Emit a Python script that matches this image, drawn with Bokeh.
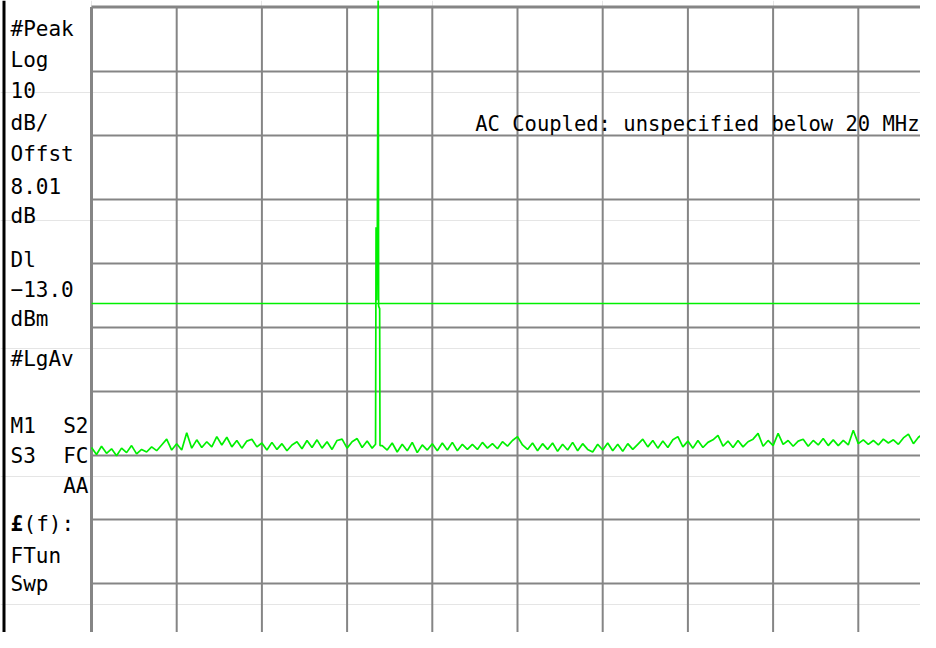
import numpy as np
from bokeh.plotting import figure
from bokeh.models import Range1d, Label
from bokeh.embed import file_html
from bokeh.resources import INLINE

# ---------------- data ----------------
ref_level_dbm = 33.25          # top graticule line
db_per_div = 10.0
display_line_dbm = -13.0
n_div_x = 10
n_div_y = 10

# noise floor trace (dBm), evenly spaced sweep points across 10 divisions
noise_dbm = [
    -35.5, -36.6, -35.3, -36.4, -35.7, -36.8, -35.6, -36.3, -35.2, -36.5, -35.8, -36.2, -35.4, -36.0, -35.1,
    -34.2,
    -35.9, -34.9, -35.9,
    -33.2,
    -35.6, -34.3, -35.5, -34.6, -35.4, -33.8, -35.1, -33.9, -35.4, -34.4, -35.6, -34.5, -34.2, -35.4,
    -34.8, -35.9, -34.7, -35.8, -34.9, -36.0, -35.1, -34.6,
    -35.7, -34.4, -35.5, -34.3, -35.6, -34.6, -35.8, -34.4,
    -34.2,
    -35.6, -34.6, -34.1, -35.5, -34.5, -35.6,
    -35.0, -35.2,
    -35.9, -34.8, -36.2, -35.0, -36.0, -34.7, -36.3, -35.1, -35.9,
    -34.9, -36.0, -34.8, -35.9, -34.7, -36.0, -35.0, -35.8,
    -35.0, -35.8, -34.7, -35.6, -34.9, -35.7, -34.6, -35.3, -34.4,
    -33.8,
    -35.1, -35.8, -34.8, -36.0, -34.9, -35.8, -34.8, -36.1, -35.0, -35.9, -34.7, -36.0, -34.9, -35.8, -36.2, -35.0,
    -35.9, -34.8, -36.0, -35.0, -36.1, -34.9, -35.8, -35.0,
    -34.2,
    -35.4, -34.4, -35.6, -34.5, -35.5, -34.3, -33.8,
    -35.4, -34.5, -35.6, -34.4, -35.5, -34.7, -34.3, -33.6,
    -35.3, -34.5, -35.5, -34.4, -35.4, -34.6, -34.2, -33.3,
    -35.3, -34.4, -35.2, -33.3,
    -35.0, -34.4, -35.3, -34.5, -34.2, -35.3, -34.4, -35.1, -34.1, -35.2, -34.3, -35.2, -34.4, -35.1,
    -32.8,
    -34.9, -34.3, -35.0, -34.4, -35.1, -34.2, -34.8, -34.3, -35.0, -34.0, -33.4, -34.9, -33.9, -33.3, -35.0, -34.0, -33.3, -34.6,
]

# carrier (divisions from left edge, dBm); 36 dBm = clipped above screen top
peak_div = [3.334, 3.340, 3.348, 3.355, 3.365, 3.370, 3.382, 3.386]
peak_dbm = [-35.0, -1.1, -12.5, -1.3, 36.0, -13.4, -13.8, -35.2]

# annotation texts
left_texts = ["#Peak", "Log", "10", "dB/", "Offst", "8.01", "dB", "Dl", "\u221213.0", "dBm",
              "#LgAv", "M1", "S3", "FTun", "Swp"]
right_col_texts = ["S2", "FC", "AA"]
right_note = "AC Coupled: unspecified below 20 MHz"

# ---------------- layout helpers (screen px of reference -> data) ----------------
X0_PX, PX_PER_DIV_X = 91.0, 85.2
Y0_PX, PX_PER_DIV_Y = 7.0, 64.0

def fx(px):
    return (px - X0_PX) / PX_PER_DIV_X

def fy(py):
    return ref_level_dbm - (py - Y0_PX) / PX_PER_DIV_Y * db_per_div

W, H = 920, 632
p = figure(width=W, height=H, output_backend="svg", toolbar_location=None,
           x_axis_location=None, y_axis_location=None, min_border=0,
           x_range=Range1d(fx(0), fx(W)), y_range=Range1d(fy(H), fy(0)),
           background_fill_color="white", border_fill_color="white",
           outline_line_color=None)

bottom_dbm = ref_level_dbm - n_div_y * db_per_div
grid_col = "#858585"

# vertical graticule
gx = list(range(1, n_div_x + 1))
p.segment(x0=gx, y0=[bottom_dbm] * len(gx), x1=gx, y1=[ref_level_dbm] * len(gx),
          line_color=grid_col, line_width=2)
# horizontal graticule
gy = [ref_level_dbm - k * db_per_div for k in range(1, n_div_y + 1)]
p.segment(x0=[0] * len(gy), y0=gy, x1=[n_div_x] * len(gy), y1=gy,
          line_color=grid_col, line_width=2)
# borders
p.segment(x0=[0], y0=[bottom_dbm], x1=[0], y1=[fy(6.5)], line_color=grid_col, line_width=3)
p.segment(x0=[0], y0=[fy(6.5)], x1=[n_div_x], y1=[fy(6.5)], line_color=grid_col, line_width=3)
# black left rule of the screen
p.segment(x0=[fx(3.5)], y0=[fy(H)], x1=[fx(3.5)], y1=[fy(0)], line_color="black", line_width=3)

# display line
p.segment(x0=[0], y0=[display_line_dbm], x1=[n_div_x], y1=[display_line_dbm],
          line_color="#00f000", line_width=1.7)

# trace
freq = np.linspace(0, n_div_x, len(noise_dbm))
lvl = np.array(noise_dbm)
mask = (freq < peak_div[0]) | (freq > peak_div[-1])
tx = np.concatenate([freq[mask], np.array(peak_div)])
ty = np.concatenate([lvl[mask], np.array(peak_dbm)])
order = np.argsort(tx, kind="stable")
p.line(tx[order], ty[order], line_color="#00f000", line_width=1.7)

# left panel texts
font = "DejaVu Sans Mono"
fs = "21px"
baselines = [28, 59, 89, 122, 153, 185, 215, 259, 288, 318, 358, 425, 455, 555, 583]
for t, b in zip(left_texts, baselines):
    p.add_layout(Label(x=fx(10), y=fy(b), text=t, text_font=font, text_font_size=fs,
                       text_baseline="alphabetic", text_color="black"))
for t, b in zip(right_col_texts, [425, 455, 485]):
    p.add_layout(Label(x=fx(88), y=fy(b), text=t, text_font=font, text_font_size=fs,
                       text_baseline="alphabetic", text_align="right", text_color="black"))
p.add_layout(Label(x=fx(10), y=fy(523), text="\u00a3", text_font=font, text_font_size=fs,
                   text_font_style="bold", text_baseline="alphabetic", text_color="black"))
p.add_layout(Label(x=fx(23), y=fy(523), text="(f):", text_font=font, text_font_size=fs,
                   text_baseline="alphabetic", text_color="black"))

# right note
p.add_layout(Label(x=fx(919), y=fy(123), text=right_note, text_font=font, text_font_size="20.5px",
                   text_baseline="alphabetic", text_align="right", text_color="black"))

open("out.html", "w").write(file_html(p, INLINE))
